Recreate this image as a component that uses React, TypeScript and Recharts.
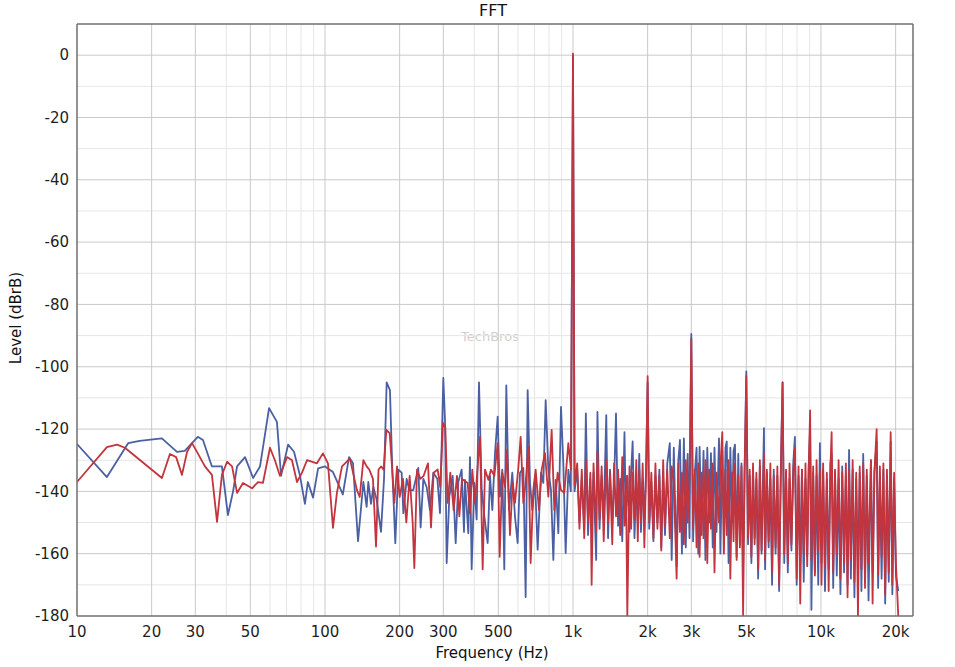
import { LineChart, Line, XAxis, YAxis, ReferenceLine } from "recharts"

// axis ticks and grid
const xTicks = [10, 20, 30, 50, 100, 200, 300, 500, 1000, 2000, 3000, 5000, 10000, 20000]
const xTickLabels = ["10", "20", "30", "50", "100", "200", "300", "500", "1k", "2k", "3k", "5k", "10k", "20k"]
const xMinorGrid = [40, 60, 70, 80, 90, 400, 600, 700, 800, 900, 4000, 6000, 7000, 8000, 9000]
const yTicks = [-180, -160, -140, -120, -100, -80, -60, -40, -20, 0]
const yMinorGrid = [-170, -150, -130, -110, -90, -70, -50, -30, -10]

// blue channel below 1 kHz
const blueLowHz = [
  10, 13.2, 16.1, 17.9, 22, 25.3, 27.2, 30.7, 32.2, 35,
  38.4, 40.6, 42.6, 44.2, 47.6, 51.3, 54.7, 59.5, 64, 66.5,
  71, 75, 79.3, 83, 85.3, 89.5, 93.8, 100, 107.7, 118,
  125, 129.7, 135.9, 142.8, 147.2, 149.5, 153.3, 156.6, 161.6, 168.2,
  173, 177.3, 182.8, 186.8, 192.1, 197.5, 203.8, 207, 213.5, 218.8,
  227, 237.8, 243, 249.2, 257, 265, 273.5, 283.9, 290.9, 300,
  304.7, 309.5, 317.2, 327.3, 336.5, 344.8, 355.7, 363.5, 366.8, 378.4,
  384.3, 390.3, 400, 408.8, 417.8, 428.3, 439, 452.9, 462.8, 472.9,
  484.8, 496.9, 507.7, 518.8, 528.5, 538.4, 551.9, 569.3, 583.5, 598.3,
  611.4, 630.6, 644.4, 656.5, 670.9, 685.5, 702.6, 720.3, 743, 759.3,
  776, 795.4, 815.3, 833.2, 851.4, 872.8, 894.6, 914.2, 934.2, 957.7,
  980,
]
const blueLow = [
  -124.8, -135.4, -124.5, -123.8, -123, -127.3, -127, -122.5, -123.5, -132,
  -132, -147.6, -140, -132, -129, -135.7, -132, -113.3, -117.7, -135,
  -125, -127.3, -135, -144, -137, -142, -132.6, -132, -133.8, -141,
  -129, -131, -156, -137, -145, -137, -144, -138.6, -142.7, -153,
  -136, -105, -107.5, -133, -156.6, -133, -134, -147, -136, -139.6,
  -139.6, -132.5, -151.6, -136, -138.6, -146, -134, -136, -147, -103.6,
  -117, -163, -141.7, -135, -156.6, -137, -133, -153, -136.3, -153.4,
  -129, -165, -137.3, -149, -105, -139, -148, -156.6, -135, -146,
  -127.7, -116, -141.7, -133, -165, -106, -146, -134, -148, -156.6,
  -134, -132.5, -173.9, -107.5, -137.3, -146, -136.3, -158.7, -134, -137.3,
  -110.7, -133, -139.6, -162, -136.3, -153.4, -112.9, -131, -159.8, -133,
  -140,
]

// red channel below 1 kHz
const redLowHz = [
  10, 13.2, 14.5, 15.6, 22, 23.7, 25.1, 26.5, 27.8, 29.1,
  30.7, 32.8, 35, 36.7, 38.4, 40.3, 42.2, 44.2, 46.7, 50.8,
  53.7, 56.2, 60, 62.8, 65.8, 70.3, 73.6, 77.1, 80.8, 84.6,
  92.8, 98.1, 102.8, 107.7, 111.7, 117.1, 126, 134.5, 138, 142.8,
  147.2, 150.9, 156.1, 160.6, 164.4, 168.2, 172.4, 176.8, 182.3, 186.3,
  190.4, 195.2, 200, 206.3, 212.8, 219.5, 225.7, 229.2, 235, 242.3,
  249.9, 260.2, 267.6, 274.2, 284.7, 291.7, 299, 305.6, 312.3, 320.2,
  330.2, 340.6, 348.1, 356.8, 376, 384.3, 392.7, 402.5, 412.7, 421.7,
  432.3, 441.8, 455.6, 467, 481.8, 496.9, 506.2, 518.8, 531.8, 541.7,
  557.1, 571, 583.5, 602, 615.2, 630.6, 644.4, 660.6, 675, 691.8,
  707, 729.3, 747.7, 771.2, 795.4, 820.4, 840.9, 867.4, 894.6, 922.7,
  957.7, 981.5,
]
const redLow = [
  -137, -125.8, -125, -126, -135.7, -128, -129, -134.7, -127.3, -124.5,
  -127.8, -132, -134.7, -149.8, -134.7, -130.5, -132, -140.5, -137.3, -139,
  -137, -137.3, -126, -130, -135, -129, -130, -137, -134, -130,
  -131, -127.8, -131, -151.7, -140.5, -132, -129.5, -139.6, -141.8, -130,
  -132, -133, -136, -157.7, -133, -132, -133, -120.3, -121.3, -132,
  -143.7, -132, -141.8, -136, -150, -135, -150, -164.6, -133, -136,
  -135, -131, -151.6, -134, -133, -138.6, -118, -119.5, -143.7, -134,
  -146, -135, -148, -136, -137.3, -147, -133, -143.7, -132, -122.5,
  -165, -133, -136.3, -133, -135, -124.5, -161, -134, -138.6, -126.7,
  -154, -137.3, -143.7, -132.5, -122.5, -143.7, -137.3, -125.6, -163, -139.6,
  -133, -146, -133, -127.7, -141.7, -120.3, -146, -134, -139.6, -140.5,
  -124.5, -133,
]

// both channels from 1 kHz up
const highHz = [
  1000, 1015, 1040, 1062, 1085, 1110, 1127, 1150, 1175, 1189,
  1210, 1240, 1255, 1280, 1305, 1330, 1362, 1385, 1410, 1440,
  1465, 1491, 1520, 1550, 1580, 1613, 1635, 1656, 1690, 1715,
  1740, 1770, 1800, 1825, 1850, 1880, 1910, 1940, 1970, 2000,
  2030, 2070, 2110, 2150, 2190, 2230, 2270, 2310, 2350, 2400,
  2457, 2500, 2550, 2618, 2660, 2700, 2750, 2800, 2850, 2900,
  2950, 3000, 3050, 3100, 3150, 3200, 3240, 3300, 3360, 3420,
  3480, 3540, 3600, 3660, 3720, 3790, 3880, 3930, 4000, 4060,
  4120, 4170, 4240, 4310, 4380, 4440, 4500, 4570, 4640, 4710,
  4780, 4853, 4920, 5000, 5080, 5160, 5240, 5320, 5400, 5490,
  5580, 5670, 5760, 5890, 5950, 6050, 6150, 6250, 6350, 6450,
  6560, 6670, 6780, 6890, 7000, 7110, 7230, 7350, 7470, 7600,
  7730, 7850, 7980, 8120, 8250, 8380, 8520, 8660, 8800, 8920,
  9040, 9150, 9300, 9450, 9600, 9750, 9900, 10050, 10200, 10380,
  10560, 10740, 10920, 11040, 11200, 11390, 11580, 11780, 11980, 12180,
  12390, 12600, 12800, 12980, 13200, 13420, 13640, 13870, 14100, 14330,
  14560, 14800, 15050, 15300, 15550, 15900, 16150, 16420, 16770, 17000,
  17280, 17560, 17850, 18150, 18450, 18760, 19100, 19400, 19720, 20050,
  20500,
]
const blueHigh = [
  0, -140, -133, -150, -136, -152, -115, -154, -136, -150,
  -134, -162, -114.5, -152, -135, -149, -115.5, -155, -133, -150,
  -137, -115, -151, -136, -156, -121, -149, -135, -153, -134,
  -124, -155, -137, -150, -128, -153, -136, -149, -134, -105,
  -152, -137, -156, -135, -150, -133, -158, -136, -154, -131,
  -124.5, -162, -126, -164, -130, -123.5, -160, -123, -158, -128,
  -155, -89.5, -156, -134, -126, -160, -125.7, -154, -127, -162,
  -126, -150, -127.7, -158, -126, -153, -123, -160, -127, -155,
  -126, -124, -163, -126, -150, -127, -125, -161, -128, -157,
  -131, -165, -133, -101.5, -157, -135, -163, -133, -155, -136,
  -168, -132, -160, -119.7, -165, -134, -158, -136, -170, -133,
  -160, -135, -172, -132, -105, -163, -134, -166, -136, -159,
  -131, -122.5, -170, -135, -163, -133, -169, -136, -161, -132,
  -120, -178, -134, -166, -135, -170, -124.5, -163, -133, -172,
  -136, -165, -131, -128, -171, -134, -167, -136, -173, -132,
  -166, -135, -170, -126.7, -168, -133, -174, -136, -165, -134,
  -172, -128, -168, -135, -175, -130, -166, -134, -124, -171,
  -136, -168, -133, -176, -135, -169, -124, -173, -136, -167,
  -172,
]
const redHigh = [
  0.5, -138, -131, -152, -133, -155, -130, -150, -134, -170,
  -131, -153, -127, -149, -132, -156, -130, -150, -134, -157,
  -131, -148, -133, -154, -129, -151, -135, -180, -132, -152,
  -134, -149, -130, -156, -133, -150, -131, -158, -135, -103,
  -150, -134, -155, -131, -152, -135, -159, -130, -151, -133,
  -155, -132, -137, -168, -131, -153, -134, -157, -130, -150,
  -135, -91, -152, -133, -158, -131, -161, -134, -155, -130,
  -163, -133, -152, -131, -166, -134, -150, -132, -121, -160,
  -133, -154, -130, -168, -134, -156, -131, -162, -135, -158,
  -132, -180, -134, -103, -155, -133, -161, -131, -157, -134,
  -165, -130, -159, -128, -162, -133, -156, -131, -166, -135,
  -158, -132, -170, -134, -105, -160, -133, -163, -131, -157,
  -134, -126, -168, -132, -176, -133, -160, -131, -164, -134,
  -114, -162, -132, -167, -130, -159, -133, -170, -131, -164,
  -134, -172, -132, -121, -166, -133, -160, -130, -168, -134,
  -163, -131, -174, -133, -162, -130, -169, -134, -180, -132,
  -165, -131, -171, -133, -163, -130, -176, -134, -120, -167,
  -132, -161, -131, -173, -133, -166, -121, -170, -134, -163,
  -180,
]

const toPoints = (hz: number[], level: number[]) => hz.map((f, i) => ({ hz: f, level: level[i] }))

const blueData = [...toPoints(blueLowHz, blueLow), ...toPoints(highHz, blueHigh)]
const redData = [...toPoints(redLowHz, redLow), ...toPoints(highHz, redHigh)]

const X_MAX = 23500
const Y_MAX = 10
const font = "'DejaVu Sans', sans-serif"
const tickStyle = { fill: "#1e1e1e", fontSize: 15, fontFamily: font }
const frame = "#6f6f6f"

export default function App() {
  return (
    <div style={{ position: "absolute", left: 0, top: 0, width: 955, height: 667, background: "#fff", fontFamily: font }}>
      <div style={{ position: "absolute", left: 493, top: 10, transform: "translate(-50%, -50%)", fontSize: 16, color: "#111" }}>
        FFT
      </div>
      <div
        style={{
          position: "absolute",
          left: 16,
          top: 318,
          transform: "translate(-50%, -50%) rotate(-90deg)",
          fontSize: 15,
          color: "#111",
          whiteSpace: "nowrap",
        }}
      >
        Level (dBrB)
      </div>
      <div style={{ position: "absolute", left: 492, top: 653, transform: "translate(-50%, -50%)", fontSize: 15, color: "#111", whiteSpace: "nowrap" }}>
        Frequency (Hz)
      </div>
      <div style={{ position: "absolute", left: 490, top: 336, transform: "translate(-50%, -50%)", fontSize: 13, color: "#cfcfcf", whiteSpace: "nowrap" }}>
        TechBros
      </div>
      <LineChart width={955} height={667} margin={{ top: 24, right: 42, bottom: 11, left: 17 }}>
        <XAxis
          type="number"
          dataKey="hz"
          scale="log"
          domain={[10, X_MAX]}
          allowDataOverflow
          ticks={xTicks}
          interval={0}
          tickFormatter={(v: number) => xTickLabels[xTicks.indexOf(v)] ?? ""}
          tick={tickStyle}
          tickLine={false}
          tickSize={0}
          tickMargin={10}
          height={40}
          axisLine={{ stroke: frame, strokeWidth: 1.5 }}
        />
        <YAxis
          type="number"
          domain={[-180, Y_MAX]}
          allowDataOverflow
          ticks={yTicks}
          interval={0}
          tick={tickStyle}
          tickLine={false}
          tickSize={0}
          tickMargin={8}
          width={60}
          axisLine={{ stroke: frame, strokeWidth: 1.5 }}
        />
        {xMinorGrid.map((v) => (
          <ReferenceLine key={`xm${v}`} x={v} stroke="#e6e6e6" strokeWidth={1} />
        ))}
        {yMinorGrid.map((v) => (
          <ReferenceLine key={`ym${v}`} y={v} stroke="#e6e6e6" strokeWidth={1} />
        ))}
        {xTicks.slice(1).map((v) => (
          <ReferenceLine key={`x${v}`} x={v} stroke="#c9c9c9" strokeWidth={1} />
        ))}
        {yTicks.slice(1).map((v) => (
          <ReferenceLine key={`y${v}`} y={v} stroke="#c9c9c9" strokeWidth={1} />
        ))}
        <ReferenceLine x={X_MAX} stroke={frame} strokeWidth={1.5} />
        <ReferenceLine y={Y_MAX} stroke={frame} strokeWidth={1.5} />
        <Line
          data={blueData}
          dataKey="level"
          type="linear"
          stroke="#4a60a2"
          strokeWidth={1.8}
          strokeLinejoin="round"
          dot={false}
          isAnimationActive={false}
        />
        <Line
          data={redData}
          dataKey="level"
          type="linear"
          stroke="#c2343e"
          strokeWidth={1.8}
          strokeLinejoin="round"
          dot={false}
          isAnimationActive={false}
        />
      </LineChart>
    </div>
  )
}
